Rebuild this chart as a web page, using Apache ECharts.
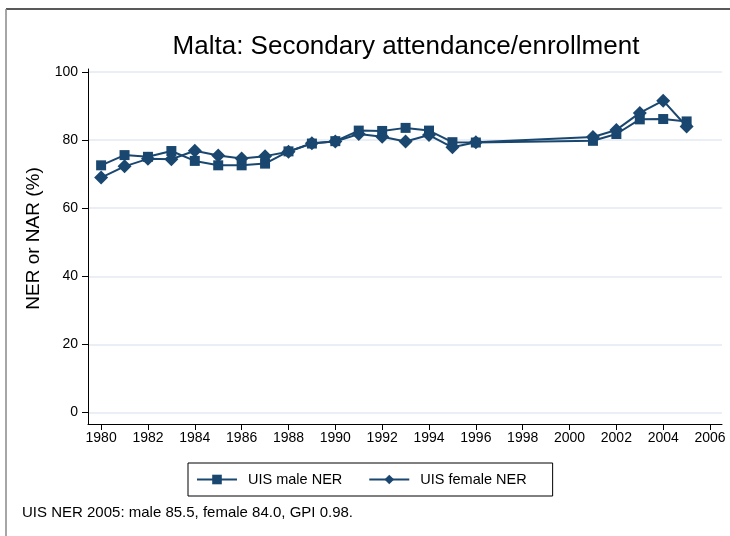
<!DOCTYPE html>
<html lang="en">
  <head>
    <meta charset="UTF-8" />
    <title>Malta: Secondary attendance/enrollment</title>
    <script src="https://cdn.jsdelivr.net/npm/echarts@6/dist/echarts.min.js"></script>
    <style>
      html, body { margin: 0; padding: 0; background: #fff; }
      #main { width: 730px; height: 536px; }
    </style>
  </head>
  <body>
    <div id="main"></div>
    <script>
      var years = [1980, 1981, 1982, 1983, 1984, 1985, 1986, 1987, 1988, 1989, 1990,
        1991, 1992, 1993, 1994, 1995, 1996, 2001, 2002, 2003, 2004, 2005];
      var maleNER = [72.6, 75.6, 75.1, 76.8, 73.9, 72.6, 72.6, 73.1, 76.7, 79.0, 79.7,
        82.8, 82.7, 83.6, 82.8, 79.4, 79.3, 79.8, 81.8, 86.1, 86.2, 85.5];
      var femaleNER = [69.0, 72.3, 74.5, 74.4, 76.9, 75.5, 74.6, 75.3, 76.6, 79.1, 79.6,
        81.8, 81.0, 79.6, 81.5, 77.9, 79.4, 80.9, 83.0, 88.0, 91.6, 84.0];
      var xTicks = [1980, 1982, 1984, 1986, 1988, 1990, 1992, 1994, 1996, 1998, 2000, 2002, 2004, 2006];
      var yTicks = [0, 20, 40, 60, 80, 100];

      var navy = "#1a476f";
      var font = "Liberation Sans, Arial, sans-serif";

      function pairs(vals) {
        return years.map(function (y, i) { return [y, vals[i]]; });
      }

      var myChart = echarts.init(document.getElementById("main"));

      var option = {
        animation: false,
        textStyle: { fontFamily: font },
        title: {
          text: "Malta: Secondary attendance/enrollment",
          left: 401,
          textAlign: "center",
          top: 29,
          textStyle: { fontSize: 26, fontWeight: "normal", color: "#000", fontFamily: font },
        },
        grid: { left: 88, right: 8, top: 69, bottom: 112 },
        xAxis: {
          type: "value",
          min: 1979.44,
          max: 2006.51,
          axisLine: { show: true, onZero: false, lineStyle: { color: "#000", width: 1 } },
          axisTick: { show: true, length: 6, customValues: xTicks, lineStyle: { color: "#000" } },
          axisLabel: {
            customValues: xTicks,
            fontSize: 14,
            color: "#000",
            margin: 7,
            fontFamily: font,
            formatter: function (v) { return String(v); },
          },
          splitLine: { show: false },
        },
        yAxis: {
          type: "value",
          min: -3.4,
          max: 100.9,
          name: "NER or NAR (%)",
          nameLocation: "middle",
          nameRotate: 90,
          nameGap: 43,
          nameTextStyle: { fontSize: 19, color: "#000", fontFamily: font, padding: [0, 0, 0, 16] },
          axisLine: { show: true, onZero: false, lineStyle: { color: "#000", width: 1 } },
          axisTick: { show: true, length: 6, customValues: yTicks, lineStyle: { color: "#000" } },
          axisLabel: { customValues: yTicks, fontSize: 14, color: "#000", margin: 10, fontFamily: font },
          splitLine: { show: true, lineStyle: { color: "#e2eaf0", width: 1.5 } },
        },
        legend: {
          left: 188,
          top: 463,
          padding: [9, 26, 9, 8],
          itemWidth: 40,
          itemHeight: 12,
          itemGap: 26,
          borderColor: "#000",
          borderWidth: 1,
          textStyle: { fontSize: 14.5, color: "#000", fontFamily: font, padding: [0, 0, 0, 6] },
          data: ["UIS male NER", "UIS female NER"],
        },
        graphic: [
          { type: "line", shape: { x1: 6, y1: 9, x2: 730, y2: 9 }, style: { stroke: "#222", lineWidth: 1.5 } },
          { type: "line", shape: { x1: 6, y1: 9, x2: 6, y2: 536 }, style: { stroke: "#888", lineWidth: 1.5 } },
          {
            type: "text",
            left: 22,
            top: 505,
            style: { text: "UIS NER 2005: male 85.5, female 84.0, GPI 0.98.", fontSize: 15, fill: "#000", fontFamily: font },
          },
        ],
        series: [
          {
            name: "UIS male NER",
            type: "line",
            data: pairs(maleNER),
            symbol: "rect",
            symbolSize: 10,
            color: navy,
            lineStyle: { width: 2, color: navy },
            itemStyle: { color: navy },
          },
          {
            name: "UIS female NER",
            type: "line",
            data: pairs(femaleNER),
            symbol: "diamond",
            symbolSize: 14,
            color: navy,
            lineStyle: { width: 2, color: navy },
            itemStyle: { color: navy },
          },
        ],
      };

      myChart.setOption(option);
    </script>
  </body>
</html>
